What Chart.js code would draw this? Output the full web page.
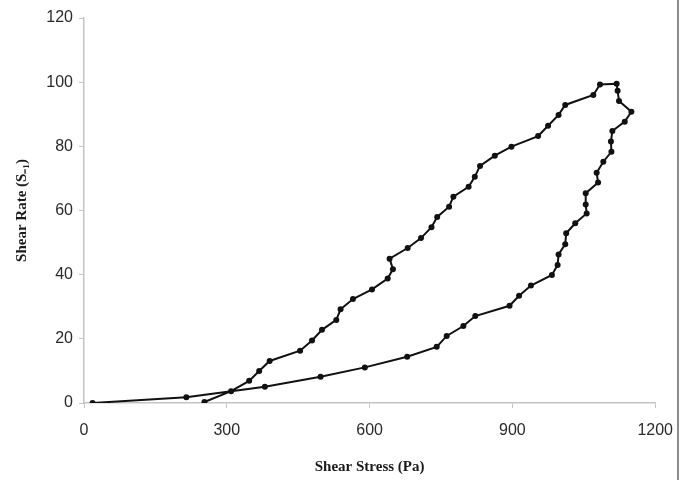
<!DOCTYPE html>
<html>
<head>
<meta charset="utf-8">
<script src="https://cdn.jsdelivr.net/npm/chart.js@4/dist/chart.umd.min.js"></script>
<style>
  html, body { margin: 0; padding: 0; background: #fff; }
  #wrap { position: relative; width: 686px; height: 480px; }
  #edge { position: absolute; left: 677px; top: 0; width: 2px; height: 480px; background: #8c8c8c; }
</style>
</head>
<body>
<div id="wrap">
  <canvas id="chart" width="686" height="480"></canvas>
  <div id="edge"></div>
</div>
<script>
// ramp up (lower branch)
const upStress = [18, 215, 380, 497, 590, 679, 741, 762, 797, 822, 894, 914, 939, 983, 995, 997, 1011, 1013, 1032, 1056, 1054, 1054, 1080, 1077, 1091, 1108, 1107, 1110, 1136, 1150];
const upRate = [0, 1.8, 5.1, 8.2, 11.1, 14.4, 17.5, 20.9, 24, 27.1, 30.3, 33.4, 36.6, 39.9, 43, 46.3, 49.5, 52.9, 56, 59.1, 61.9, 65.4, 68.7, 71.8, 75.2, 78.3, 81.5, 84.8, 87.7, 90.8];

// ramp down (upper branch)
const downStress = [1124, 1121, 1119, 1084, 1070, 1011, 997, 975, 954, 898, 863, 832, 821, 808, 776, 767, 742, 730, 708, 680, 642, 649, 638, 605, 565, 539, 530, 500, 479, 454, 390, 368, 347, 309, 253];
const downRate = [94.1, 97.3, 99.5, 99.3, 96, 92.9, 89.8, 86.4, 83.2, 79.9, 77.1, 73.9, 70.5, 67.4, 64.3, 61.2, 58, 54.8, 51.4, 48.3, 45, 41.7, 38.8, 35.4, 32.4, 29.2, 25.9, 22.8, 19.5, 16.3, 13.1, 10, 6.9, 3.7, 0.3];

const xTicks = [0, 300, 600, 900, 1200];
const yTicks = [0, 20, 40, 60, 80, 100, 120];

const stress = upStress.concat(downStress);
const rate = upRate.concat(downRate);
const points = stress.map((s, i) => ({ x: s, y: rate[i] }));

const axisGrey = '#c4c4c4';
const tickFont = { family: "'Liberation Sans', Arial, sans-serif", size: 16 };
const titleFont = { family: "'Liberation Serif', 'Times New Roman', serif", size: 15, weight: 'bold' };

new Chart(document.getElementById('chart').getContext('2d'), {
    type: 'scatter',
    data: {
        datasets: [{
            data: points,
            showLine: true,
            borderColor: '#111',
            backgroundColor: '#111',
            borderWidth: 2,
            tension: 0,
            pointRadius: 3,
            pointHoverRadius: 3,
            pointBorderWidth: 0
        }]
    },
    options: {
        responsive: false,
        animation: false,
        layout: { padding: { left: 0, top: 18, right: 28, bottom: 0 } },
        plugins: { legend: { display: false }, tooltip: { enabled: false } },
        scales: {
            x: {
                type: 'linear',
                min: xTicks[0],
                max: xTicks[xTicks.length - 1],
                afterBuildTicks: (s) => { s.ticks = xTicks.map(v => ({ value: v })); },
                afterFit: (s) => { s.height = 77; },
                grid: { drawOnChartArea: false, drawTicks: true, tickLength: 5, color: axisGrey },
                border: { color: axisGrey, width: 1.5 },
                ticks: { color: '#2a2a2a', font: tickFont, padding: 13, maxRotation: 0, callback: (v) => String(v) },
                title: { display: true, text: 'Shear Stress (Pa)', color: '#1a1a1a', font: titleFont, padding: { top: 0, bottom: 4 } }
            },
            y: {
                type: 'linear',
                min: yTicks[0],
                max: yTicks[yTicks.length - 1],
                afterBuildTicks: (s) => { s.ticks = yTicks.map(v => ({ value: v })); },
                afterFit: (s) => { s.width = 84; },
                grid: { drawOnChartArea: false, drawTicks: true, tickLength: 5, color: axisGrey },
                border: { color: axisGrey, width: 1.5 },
                ticks: { color: '#2a2a2a', font: tickFont, padding: 6, callback: (v) => String(v) },
                title: { display: true, text: 'Shear Rate (S₋₁)', color: '#1a1a1a', font: titleFont, padding: { top: 13, bottom: 0 } }
            }
        }
    }
});
</script>
</body>
</html>
